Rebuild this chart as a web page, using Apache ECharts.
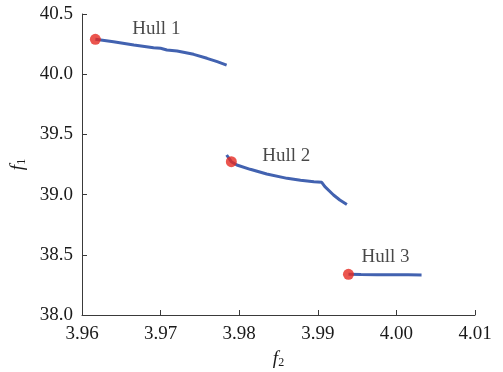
<!DOCTYPE html>
<html>
<head>
<meta charset="utf-8">
<script src="https://cdn.jsdelivr.net/npm/echarts@6/dist/echarts.min.js"></script>
<style>
html,body{margin:0;padding:0;background:#fff;}
#chart{width:503px;height:372px;}
</style>
</head>
<body>
<div id="chart"></div>
<script>
// Pareto front pieces, [f2, f1]
const hull1 = [
  [3.9617, 40.290], [3.9640, 40.270], [3.9666, 40.243], [3.9691, 40.220],
  [3.9700, 40.215], [3.9708, 40.201], [3.9721, 40.193], [3.9742, 40.165],
  [3.9759, 40.132], [3.9772, 40.104], [3.9784, 40.076]
];
const hull2 = [
  [3.9784, 39.329], [3.9790, 39.273], [3.9797, 39.246], [3.9814, 39.210],
  [3.9835, 39.171], [3.9861, 39.135], [3.9878, 39.119], [3.9895, 39.107],
  [3.9905, 39.102], [3.9909, 39.066], [3.9920, 38.997], [3.9928, 38.955],
  [3.9937, 38.918]
];
const hull3 = [
  [3.9939, 38.338], [3.9955, 38.336], [3.9975, 38.335], [3.9995, 38.334],
  [4.0015, 38.334], [4.0032, 38.333]
];
// Representative point of each hull
const hullNames = ['Hull 1', 'Hull 2', 'Hull 3'];
const hullCenters = [[3.9617, 40.290], [3.9790, 39.273], [3.9939, 38.338]];
const labelOffsets = [[61, -10], [55, -6], [37, -17]];

const xTicks = { min: 3.96, max: 4.01, interval: 0.01 };
const yTicks = { min: 38.0, max: 40.5, interval: 0.5 };

const serif = '"Liberation Serif", "DejaVu Serif", serif';
const blue = '#4262b0';
const red = '#e62b22';
const axisColor = '#3a3a3a';
const textColor = '#1a1a1a';

const chart = echarts.init(document.getElementById('chart'), null, { renderer: 'canvas' });

function hullLine(data) {
  return {
    type: 'line',
    data: data,
    showSymbol: false,
    symbol: 'none',
    lineStyle: { color: blue, width: 3 },
    z: 2,
    animation: false
  };
}

const axisNameRich = {
  f: { fontFamily: serif, fontStyle: 'italic', fontSize: 19, color: textColor },
  s: { fontFamily: serif, fontSize: 12, color: textColor, verticalAlign: 'bottom', padding: [8, 0, 0, 0] }
};

chart.setOption({
  backgroundColor: '#fff',
  animation: false,
  grid: { left: 82, right: 28, top: 14, bottom: 57, containLabel: false, outerBoundsMode: 'none' },
  xAxis: {
    type: 'value',
    min: xTicks.min, max: xTicks.max, interval: xTicks.interval,
    name: '{f|f}{s|2}',
    nameLocation: 'middle',
    nameGap: 34,
    nameTextStyle: { rich: axisNameRich },
    axisLine: { lineStyle: { color: axisColor, width: 1 } },
    axisTick: { inside: true, length: 5, lineStyle: { color: axisColor } },
    axisLabel: {
      fontFamily: serif, fontSize: 19, color: textColor, margin: 10,
      formatter: v => v.toFixed(2)
    },
    splitLine: { show: false }
  },
  yAxis: {
    type: 'value',
    min: yTicks.min, max: yTicks.max, interval: yTicks.interval,
    name: '{f|f}{s|1}',
    nameLocation: 'middle',
    nameRotate: 90,
    nameGap: 54,
    nameTextStyle: { rich: axisNameRich },
    axisLine: { lineStyle: { color: axisColor, width: 1 } },
    axisTick: { inside: true, length: 5, lineStyle: { color: axisColor } },
    axisLabel: {
      fontFamily: serif, fontSize: 19, color: textColor, margin: 9,
      formatter: v => v.toFixed(1)
    },
    splitLine: { show: false }
  },
  series: [
    hullLine(hull1),
    hullLine(hull2),
    hullLine(hull3),
    {
      type: 'scatter',
      data: hullCenters.map((p, i) => ({
        value: p,
        name: hullNames[i],
        label: { offset: labelOffsets[i] }
      })),
      symbolSize: 11,
      itemStyle: { color: red },
      z: 5,
      label: {
        show: true,
        position: 'inside',
        formatter: p => p.name,
        fontFamily: serif,
        fontSize: 19,
        color: textColor
      }
    }
  ]
});
</script>
</body>
</html>
